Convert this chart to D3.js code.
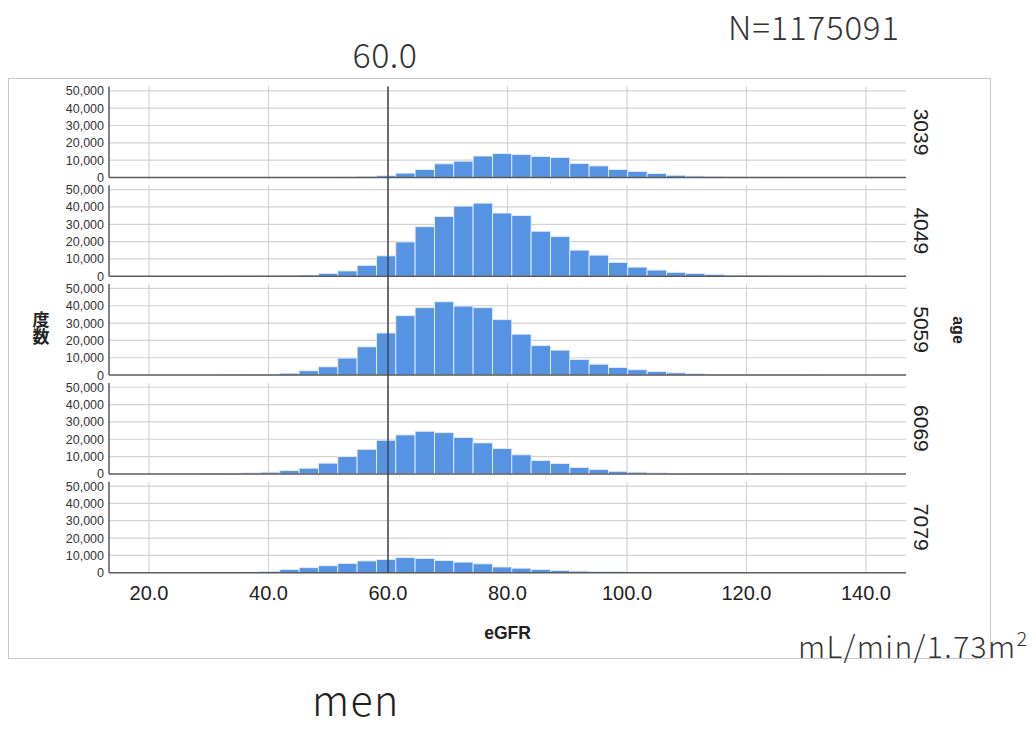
<!DOCTYPE html>
<html>
<head>
<meta charset="utf-8">
<script src="https://cdn.jsdelivr.net/npm/d3@7"></script>
<style>
  html, body { margin: 0; padding: 0; background: #fff; }
  svg { display: block; }
</style>
</head>
<body>
<svg id="chart" width="1036" height="729"></svg>
<script>
// ---------- DATA ----------
const ageGroups = ["3039", "4049", "5059", "6069", "7079"];
const binFirstEdge = 28.94;   // left edge of first bin (eGFR)
const binWidth = 3.236;       // eGFR units per bin
const counts3039 = [0,0,0,0,0,20,60,150,400,1000,2500,4600,7900,9400,12400,13800,13200,12100,11500,8100,6700,4600,3500,2300,1300,800,600,300,150,100,60,30,20];
const counts4049 = [0,30,80,150,300,700,1700,3100,6300,11800,19800,28600,34500,40500,42200,36500,35100,26000,22900,15100,12200,8000,5300,3600,2300,1700,1100,600,300,150,80,40,20];
const counts5059 = [0,50,150,400,1100,2500,4800,9800,16300,24300,34300,38900,42300,39800,38900,32000,23600,17000,14400,9000,6300,4400,3100,2100,1300,800,400,200,100,50,30,10,0];
const counts6069 = [100,300,600,1000,1900,3300,6200,10000,14200,19400,22500,24600,23800,21000,17900,14600,11000,7700,6000,3700,2500,1500,1000,600,300,150,80,40,20,10,0,0,0];
const counts7079 = [100,200,400,800,1900,2900,4000,5300,6800,7600,8700,8200,7000,6100,5100,3300,2600,1900,1300,900,700,500,300,150,80,40,20,10,0,0,0,0,0];
const panelCounts = [counts3039, counts4049, counts5059, counts6069, counts7079];
const xTicks = [20, 40, 60, 80, 100, 120, 140];
const yTicks = [0, 10000, 20000, 30000, 40000, 50000];
const refValue = 60.0;
const totalN = 1175091;

// ---------- LAYOUT ----------
const svg = d3.select("#chart");
const plotLeft = 109, plotRight = 906;
const panelTop0 = 86.5, panelPitch = 98.8, panelH = 91;
const x = d3.scaleLinear().domain([13.3, 146.7]).range([plotLeft, plotRight]);
const y = d3.scaleLinear().domain([0, 52500]).range([panelH, 0]);
const axisFont = "'Liberation Sans', Arial, sans-serif";
const jpFont = "'Noto Sans CJK JP', 'Noto Sans', sans-serif";
const gridColor = "#d2d2d2";
const axisColor = "#5a5a5a";
const barColor = "#5694e3";

// outer frame
svg.append("rect").attr("x", 8.5).attr("y", 78.5).attr("width", 982).attr("height", 580)
  .attr("fill", "none").attr("stroke", "#c8c8c8").attr("stroke-width", 1);

ageGroups.forEach((grp, i) => {
  const g = svg.append("g").attr("transform", `translate(0,${panelTop0 + i * panelPitch})`);
  g.selectAll("line.hg").data(yTicks.filter(t => t > 0)).join("line")
    .attr("x1", plotLeft).attr("x2", plotRight)
    .attr("y1", d => y(d)).attr("y2", d => y(d))
    .attr("stroke", gridColor).attr("stroke-width", 1.2);
  g.selectAll("line.vg").data(xTicks).join("line")
    .attr("x1", d => x(d)).attr("x2", d => x(d))
    .attr("y1", 0).attr("y2", panelH)
    .attr("stroke", gridColor).attr("stroke-width", 1.2);
  const bins = panelCounts[i].map((c, k) => ({ x0: binFirstEdge + k * binWidth, x1: binFirstEdge + (k + 1) * binWidth, c }));
  g.selectAll("rect.bar").data(bins.filter(b => b.c > 0)).join("rect")
    .attr("x", d => x(d.x0)).attr("width", d => x(d.x1) - x(d.x0))
    .attr("y", d => y(d.c)).attr("height", d => y(0) - y(d.c))
    .attr("fill", barColor).attr("stroke", "#e4edf9").attr("stroke-width", 0.9);
  g.append("line").attr("x1", plotLeft).attr("x2", plotLeft).attr("y1", 0).attr("y2", panelH)
    .attr("stroke", axisColor).attr("stroke-width", 1.5);
  g.append("line").attr("x1", plotLeft).attr("x2", plotRight).attr("y1", y(0)).attr("y2", y(0))
    .attr("stroke", axisColor).attr("stroke-width", 1.5);
  g.selectAll("text.yt").data(yTicks).join("text")
    .attr("x", plotLeft - 5).attr("y", d => y(d)).attr("dy", "0.36em")
    .attr("text-anchor", "end").attr("font-family", axisFont).attr("font-size", 12.5)
    .attr("fill", "#333").text(d => d3.format(",")(d));
  g.append("text").attr("transform", `translate(922,${panelH / 2}) rotate(90)`)
    .attr("text-anchor", "middle").attr("dy", "0.36em")
    .attr("font-family", axisFont).attr("font-size", 21).attr("fill", "#222").text(grp);
});

// reference line at 60
svg.append("line").attr("x1", x(refValue)).attr("x2", x(refValue))
  .attr("y1", panelTop0).attr("y2", panelTop0 + 4 * panelPitch + panelH)
  .attr("stroke", "#444").attr("stroke-width", 1.5);

// x tick labels
svg.selectAll("text.xt").data(xTicks).join("text")
  .attr("x", d => x(d)).attr("y", 600).attr("text-anchor", "middle")
  .attr("font-family", axisFont).attr("font-size", 20).attr("fill", "#222")
  .text(d => d3.format(".1f")(d));

// axis titles
svg.append("text").attr("x", (plotLeft + plotRight) / 2).attr("y", 639).attr("text-anchor", "middle")
  .attr("font-family", axisFont).attr("font-weight", "bold").attr("font-size", 17.5).attr("fill", "#222").text("eGFR");
svg.append("text").attr("transform", "translate(959,330) rotate(90)").attr("text-anchor", "middle").attr("dy", "0.36em")
  .attr("font-family", axisFont).attr("font-weight", "bold").attr("font-size", 16).attr("fill", "#222").text("age");
svg.append("text").attr("x", 41).attr("y", 328).attr("text-anchor", "middle")
  .style("writing-mode", "vertical-rl")
  .attr("font-family", jpFont).attr("font-weight", "bold").attr("font-size", 17).attr("fill", "#222").text("度数");

// annotations
svg.append("text").attr("x", x(refValue) - 3).attr("y", 68).attr("text-anchor", "middle")
  .attr("font-family", jpFont).attr("font-weight", 300).attr("font-size", 34).attr("letter-spacing", 0.5).attr("fill", "#333")
  .text(d3.format(".1f")(refValue));
svg.append("text").attr("x", 728).attr("y", 40)
  .attr("font-family", jpFont).attr("font-weight", 300).attr("font-size", 33).attr("letter-spacing", 0.8).attr("fill", "#333")
  .text("N=" + totalN);
const unit = svg.append("text").attr("x", 798).attr("y", 658)
  .attr("font-family", jpFont).attr("font-weight", 300).attr("font-size", 30).attr("letter-spacing", 1.4).attr("fill", "#333");
unit.append("tspan").text("mL/min/1.73m");
unit.append("tspan").attr("font-size", 20).attr("dy", -12).text("2");
svg.append("text").attr("x", 312).attr("y", 716)
  .attr("font-family", jpFont).attr("font-weight", 300).attr("font-size", 41).attr("letter-spacing", 1.5).attr("fill", "#222")
  .text("men");
</script>
</body>
</html>
